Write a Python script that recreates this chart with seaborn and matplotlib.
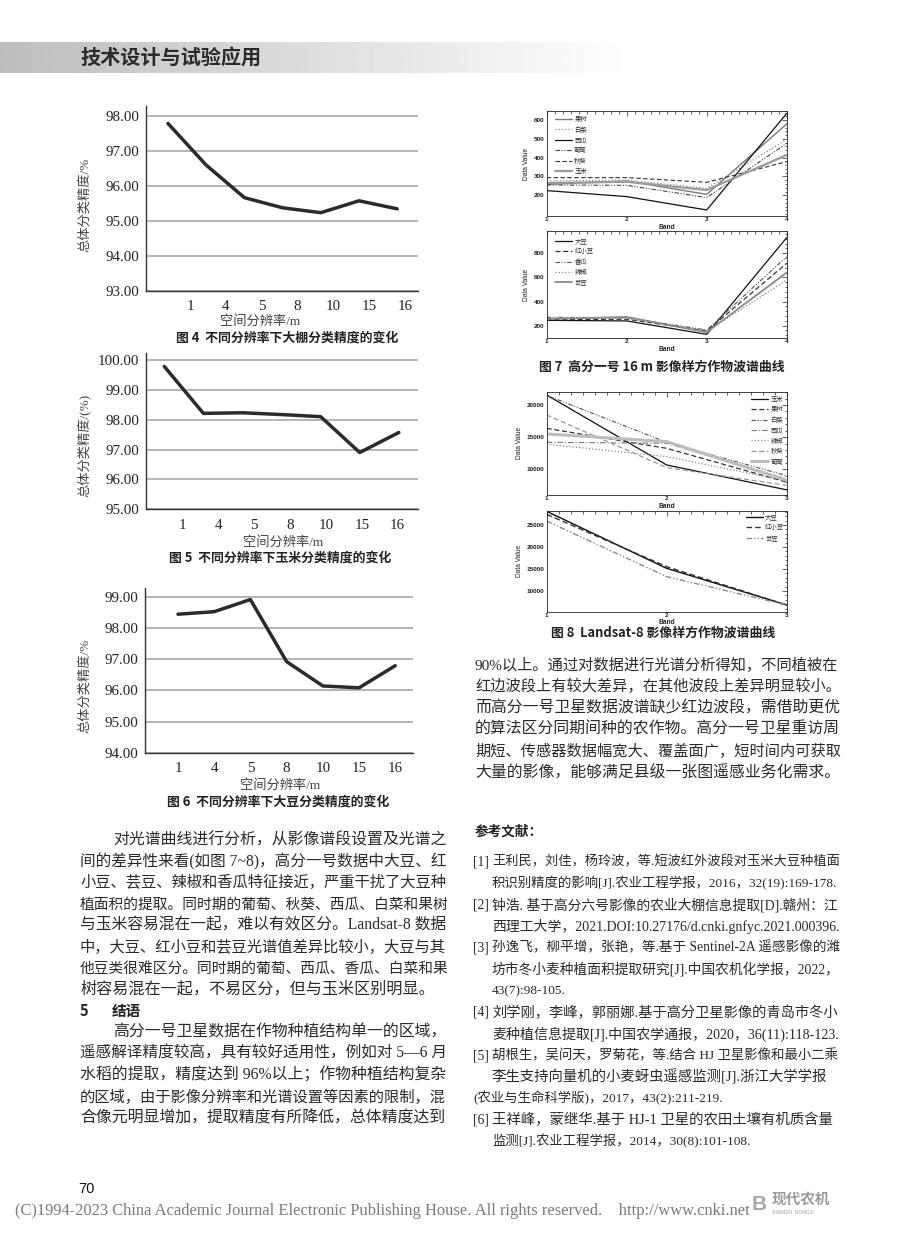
import numpy as np
import pandas as pd
import matplotlib
matplotlib.use("Agg")
import matplotlib.pyplot as plt
import seaborn as sns
from matplotlib.lines import Line2D
from matplotlib.ticker import MultipleLocator

# ---------------- data ----------------
resolution_labels = ["1", "4", "5", "8", "10", "15", "16"]
greenhouse_acc = [97.78, 96.59, 95.66, 95.37, 95.23, 95.57, 95.34]
maize_acc = [99.78, 98.21, 98.23, 98.17, 98.10, 96.90, 97.57]
soybean_acc = [98.44, 98.52, 98.91, 96.92, 96.14, 96.08, 96.79]

gf_bands = [1, 2, 3, 4]
gf_top_crops = ["果树", "白菜", "西瓜", "葡萄", "秋葵", "玉米"]
gf_top_values = {
    "果树": [258, 276, 205, 579],
    "白菜": [276, 281, 237, 497],
    "西瓜": [225, 193, 122, 635],
    "葡萄": [255, 253, 188, 476],
    "秋葵": [294, 294, 269, 379],
    "玉米": [265, 272, 228, 414],
}
gf_bot_crops = ["大豆", "红小豆", "香瓜", "辣椒", "芸豆"]
gf_bot_values = {
    "大豆": [244, 239, 128, 930],
    "红小豆": [250, 253, 156, 717],
    "香瓜": [269, 266, 164, 772],
    "辣椒": [261, 260, 150, 579],
    "芸豆": [255, 272, 145, 640],
}
ls_bands = [1, 2, 3]
ls_top_crops = ["玉米", "果树", "白菜", "西瓜", "辣椒", "秋葵", "葡萄"]
ls_top_values = {
    "玉米": [21550, 10670, 6800],
    "果树": [16370, 13260, 8000],
    "白菜": [21500, 14200, 9000],
    "西瓜": [14200, 14050, 8500],
    "辣椒": [13900, 11970, 8200],
    "秋葵": [18450, 10260, 7500],
    "葡萄": [15500, 14300, 8300],
}
ls_bot_crops = ["大豆", "红小豆", "芸豆"]
ls_bot_values = {
    "大豆": [28100, 15150, 6820],
    "红小豆": [27420, 15530, 6820],
    "芸豆": [25900, 13260, 6820],
}

header_text = "技术设计与试验应用"
# (text, justified?)
left_lines = [
    ("对光谱曲线进行分析，从影像谱段设置及光谱之", True),
    ("间的差异性来看(如图 7~8)，高分一号数据中大豆、红", True),
    ("小豆、芸豆、辣椒和香瓜特征接近，严重干扰了大豆种", True),
    ("植面积的提取。同时期的葡萄、秋葵、西瓜、白菜和果树", True),
    ("与玉米容易混在一起，难以有效区分。Landsat-8 数据", True),
    ("中，大豆、红小豆和芸豆光谱值差异比较小，大豆与其", True),
    ("他豆类很难区分。同时期的葡萄、西瓜、香瓜、白菜和果", True),
    ("树容易混在一起，不易区分，但与玉米区别明显。", False),
]
section_title = ("5", "结语")
left_lines2 = [
    ("高分一号卫星数据在作物种植结构单一的区域，", True),
    ("遥感解译精度较高，具有较好适用性，例如对 5—6 月", True),
    ("水稻的提取，精度达到 96%以上；作物种植结构复杂", True),
    ("的区域，由于影像分辨率和光谱设置等因素的限制，混", True),
    ("合像元明显增加，提取精度有所降低，总体精度达到", True),
]
right_lines = [
    ("90%以上。通过对数据进行光谱分析得知，不同植被在", True),
    ("红边波段上有较大差异，在其他波段上差异明显较小。", True),
    ("而高分一号卫星数据波谱缺少红边波段，需借助更优", True),
    ("的算法区分同期间种的农作物。高分一号卫星重访周", True),
    ("期短、传感器数据幅宽大、覆盖面广，短时间内可获取", True),
    ("大量的影像，能够满足县级一张图遥感业务化需求。", True),
]
ref_title = "参考文献："
# (tag, text, justified?, hanging indent?)
ref_lines = [
    ("[1]", "王利民，刘佳，杨玲波，等.短波红外波段对玉米大豆种植面", True, True),
    ("", "积识别精度的影响[J].农业工程学报，2016，32(19):169-178.", True, True),
    ("[2]", "钟浩. 基于高分六号影像的农业大棚信息提取[D].赣州：江", True, True),
    ("", "西理工大学，2021.DOI:10.27176/d.cnki.gnfyc.2021.000396.", True, True),
    ("[3]", "孙逸飞，柳平增，张艳，等.基于 Sentinel-2A 遥感影像的潍", True, True),
    ("", "坊市冬小麦种植面积提取研究[J].中国农机化学报，2022，", True, True),
    ("", "43(7):98-105.", False, True),
    ("[4]", "刘学刚，李峰，郭丽娜.基于高分卫星影像的青岛市冬小", True, True),
    ("", "麦种植信息提取[J].中国农学通报，2020，36(11):118-123.", True, True),
    ("[5]", "胡根生，吴问天，罗菊花，等.结合 HJ 卫星影像和最小二乘", True, True),
    ("", "李生支持向量机的小麦蚜虫遥感监测[J].浙江大学学报", True, True),
    ("", "(农业与生命科学版)，2017，43(2):211-219.", False, False),
    ("[6]", "王祥峰，蒙继华.基于 HJ-1 卫星的农田土壤有机质含量", True, True),
    ("", "监测[J].农业工程学报，2014，30(8):101-108.", False, True),
]
page_number = "70"
copyright_text = ("(C)1994-2023 China Academic Journal Electronic Publishing House. "
                  "All rights reserved.    http://www.cnki.net")

# ---------------- style ----------------
sns.set_style("white")
MIX = ["Liberation Serif", "Noto Sans CJK SC", "DejaVu Sans"]
SANS = ["Noto Sans CJK SC", "DejaVu Sans"]
SMALL = ["Liberation Sans", "Noto Sans CJK SC", "DejaVu Sans"]
plt.rcParams["font.family"] = MIX
plt.rcParams["axes.unicode_minus"] = False

W, H = 920, 1246
fig = plt.figure(figsize=(W / 100, H / 100), dpi=100)
renderer = fig.canvas.get_renderer()
bg = fig.add_axes([0, 0, 1, 1])
grad = np.clip(np.linspace(0.74, 1.12, 920), 0, 1)[None, :]
bg.imshow(np.repeat(grad, 2, axis=0), extent=(0, W, 73, 42), cmap="gray",
          vmin=0, vmax=1, aspect="auto", interpolation="bilinear", zorder=0)
bg.set_xlim(0, W)
bg.set_ylim(H, 0)
bg.axis("off")

TEXT_C = "#2a2a2a"


def T(x, y, s, size, ha="left", va="center", weight="normal", color=TEXT_C,
      family=MIX, **kw):
    return bg.text(x, y, s, fontsize=size, ha=ha, va=va, fontweight=weight, color=color,
                   family=family, **kw)


def TJ(x, y, s, size, right, justify, lo, hi, **kw):
    """Text line whose size is tuned so the line fills the column (justified look)."""
    t = T(x, y, s, size, **kw)
    if justify:
        w = t.get_window_extent(renderer).width
        t.set_fontsize(float(np.clip(size * (right - x) / w, lo, hi)))
    return t


def add_ax(l, t, r, b):
    return fig.add_axes([l / W, 1 - b / H, (r - l) / W, (b - t) / H])


# header
T(80, 57, header_text, 14.5, weight="bold", color="#2a2a2a", family=SANS)


# ---------------- accuracy charts ----------------
def acc_chart(box, values, ylo, ytop, xlim, tick_pos, ylabel, ylab_y, xlab_x, xlab_y,
              cap, cap_x, cap_y):
    ax = add_ax(*box)
    x = np.arange(len(values))
    sns.lineplot(x=x, y=values, ax=ax, color="#2b2b2b", lw=2.5, legend=False)
    ax.set_ylim(ylo, ytop)
    ax.set_xlim(*xlim)
    yt = np.arange(ylo, np.floor(ytop) + 0.01, 1.0)
    ax.set_yticks(yt)
    ax.set_yticklabels([f"{v:.2f}" for v in yt], fontsize=10.8, color="#222222")
    ax.set_xticks(tick_pos)
    ax.set_xticklabels(resolution_labels, fontsize=10.8, color="#222222")
    ax.yaxis.grid(True, color="#a0a0a0", lw=1.1)
    ax.xaxis.grid(False)
    ax.set_axisbelow(True)
    for s in ["top", "right"]:
        ax.spines[s].set_visible(False)
    for s in ["left", "bottom"]:
        ax.spines[s].set_color("#333333")
        ax.spines[s].set_linewidth(1.0)
    ax.tick_params(axis="y", length=0, pad=5)
    ax.tick_params(axis="x", length=3, direction="out", color="#333333", pad=4)
    ax.set_xlabel("")
    ax.set_ylabel("")
    T(85, ylab_y, ylabel, 9.5, ha="center", rotation=90, color="#444444")
    T(xlab_x, xlab_y, "空间分辨率/m", 9.5, ha="center", color="#444444")
    T(cap_x, cap_y, cap, 9.3, ha="center", weight="bold", family=SANS, color="#222222")


acc_chart((146, 106, 418, 290.7), greenhouse_acc, 93, 98.28, (-0.576, 6.545),
          [0.576 + 0.937 * i for i in range(7)], "总体分类精度/%", 205, 260, 321,
          "图 4  不同分辨率下大棚分类精度的变化", 287, 338)
acc_chart((146, 352.7, 418, 509.3), maize_acc, 95, 100.24, (-0.468, 6.49),
          [0.46 + 0.918 * i for i in range(7)], "总体分类精度/(%)", 445, 283, 542,
          "图 5  不同分辨率下玉米分类精度的变化", 280, 558)
acc_chart((145, 588, 413, 752.7), soybean_acc, 94, 99.28, (-0.91, 6.49),
          list(range(7)), "总体分类精度/%", 686, 280, 785,
          "图 6  不同分辨率下大豆分类精度的变化", 278, 802)


# ---------------- spectral charts ----------------
DASH = {"solid": "", "dot": (1, 1.6), "dash": (4, 2.2), "dashdotdot": (4, 1.5, 1, 1.5, 1, 1.5),
        "dashdot": (5, 1.8, 1, 1.8)}


def spectral(box, bands, crops, values, styles, ylim, yticks, yminor, legend_loc,
             legend_anchor):
    ax = add_ax(*box)
    rows = []
    for c in crops:
        for b, v in zip(bands, values[c]):
            rows.append({"Band": b, "Value": v, "crop": c})
    df = pd.DataFrame(rows)
    pal = {c: styles[c][0] for c in crops}
    dashes = {c: DASH[styles[c][1]] for c in crops}
    sizes = {c: styles[c][2] for c in crops}
    sns.lineplot(data=df, x="Band", y="Value", hue="crop", style="crop", size="crop",
                 hue_order=crops, style_order=crops, size_order=crops,
                 palette=pal, dashes=dashes, sizes=sizes, errorbar=None,
                 legend=False, ax=ax)
    ax.set_xlim(bands[0], bands[-1])
    ax.set_ylim(*ylim)
    ax.set_xticks(bands)
    ax.set_yticks(yticks)
    ax.xaxis.set_minor_locator(MultipleLocator(0.1))
    ax.yaxis.set_minor_locator(MultipleLocator(yminor))
    ax.tick_params(which="both", direction="in", top=True, right=True, width=0.5,
                   color="#222222")
    ax.tick_params(which="major", length=3.5)
    ax.tick_params(axis="x", which="major", pad=0.8)
    ax.tick_params(axis="y", which="major", pad=1.5)
    ax.tick_params(which="minor", length=1.8)
    for lab in ax.get_xticklabels() + ax.get_yticklabels():
        lab.set_fontsize(4.6)
        lab.set_fontweight("bold")
        lab.set_family(SMALL)
        lab.set_color("#222222")
    for s in ax.spines.values():
        s.set_linewidth(0.6)
        s.set_color("#222222")
    ax.grid(False)
    handles = []
    for c in crops:
        h = Line2D([0], [0], color=styles[c][0], lw=styles[c][2])
        if styles[c][1] != "solid":
            h.set_dashes(DASH[styles[c][1]])
        handles.append(h)
    leg = ax.legend(handles, crops, loc=legend_loc, bbox_to_anchor=legend_anchor,
                    frameon=False, prop={"family": SANS, "size": 4.6},
                    handlelength=2.6, handletextpad=0.4, labelspacing=0.38,
                    borderaxespad=0, borderpad=0)
    for t in leg.get_texts():
        t.set_color("#333333")
    ax.set_ylabel("Data Value", fontsize=4.8, family=SMALL, color="#222222", labelpad=3)
    ax.set_xlabel("Band", fontsize=4.8, family=SMALL, fontweight="bold", color="#222222",
                  labelpad=1.2)
    return ax


gf_top_styles = {
    "果树": ("#7a7a7a", "solid", 1.0),
    "白菜": ("#8a8a8a", "dot", 0.9),
    "西瓜": ("#111111", "solid", 0.9),
    "葡萄": ("#444444", "dashdotdot", 0.8),
    "秋葵": ("#333333", "dash", 0.8),
    "玉米": ("#9a9a9a", "solid", 1.6),
}
gf_bot_styles = {
    "大豆": ("#111111", "solid", 0.9),
    "红小豆": ("#333333", "dash", 0.9),
    "香瓜": ("#555555", "dashdotdot", 0.8),
    "辣椒": ("#888888", "dot", 0.9),
    "芸豆": ("#8a8a8a", "solid", 1.3),
}
ls_top_styles = {
    "玉米": ("#111111", "solid", 0.9),
    "果树": ("#333333", "dash", 0.9),
    "白菜": ("#555555", "dashdotdot", 0.8),
    "西瓜": ("#777777", "dashdot", 0.8),
    "辣椒": ("#888888", "dot", 0.9),
    "秋葵": ("#999999", "dash", 0.9),
    "葡萄": ("#bdbdbd", "solid", 2.2),
}
ls_bot_styles = {
    "大豆": ("#111111", "solid", 1.0),
    "红小豆": ("#333333", "dash", 1.0),
    "芸豆": ("#8a8a8a", "dashdotdot", 1.0),
}

spectral((546.7, 111, 786.7, 216), gf_bands, gf_top_crops, gf_top_values, gf_top_styles,
         (90, 648), [200, 300, 400, 500, 600], 20, "upper left", (0.035, 0.96))
spectral((546.7, 231, 786.7, 338.3), gf_bands, gf_bot_crops, gf_bot_values, gf_bot_styles,
         (95, 985), [200, 400, 600, 800], 40, "upper left", (0.035, 0.944))
T(662, 367, "图 7  高分一号 16 m 影像样方作物波谱曲线", 9.3, ha="center", weight="bold",
  family=SANS, color="#222222")
spectral((546.7, 391.7, 786.7, 495), ls_bands, ls_top_crops, ls_top_values, ls_top_styles,
         (6000, 22070), [10000, 15000, 20000], 1000, "upper right", (0.985, 0.968))
spectral((546.7, 511, 786.7, 611.7), ls_bands, ls_bot_crops, ls_bot_values, ls_bot_styles,
         (5300, 28180), [10000, 15000, 20000, 25000], 1000, "upper right", (0.99, 0.98))
T(663, 633, "图 8  Landsat-8 影像样方作物波谱曲线", 9.3, ha="center", weight="bold",
  family=SANS, color="#222222")

# ---------------- body text ----------------
BODY = 11.6
LS = 21.4
y = 840
for i, (line, just) in enumerate(left_lines):
    TJ(113 if i == 0 else 80, y, line, BODY, 447, just, 10.6, 12.2)
    y += LS
T(80, y, section_title[0], 10.5, weight="bold", family=SANS, color="#222222")
T(112, y, section_title[1], 10.5, weight="bold", family=SANS, color="#222222")
y += LS
for i, (line, just) in enumerate(left_lines2):
    TJ(113 if i == 0 else 80, y, line, BODY, 447, just, 10.6, 12.2)
    y += LS

y = 665
for line, just in right_lines:
    TJ(475, y, line, BODY, 840, just, 10.6, 12.2)
    y += 21.6

T(475, 832, ref_title, 9.8, weight="bold", family=SANS, color="#222222")
y = 862
for tag, line, just, hang in ref_lines:
    if tag:
        T(473, y, tag, 9.8)
    TJ(492 if hang else 473, y, line, 9.6, 840, just, 8.8, 10.4)
    y += 21.5

# ---------------- footer ----------------
T(78, 1189, page_number, 10.5, family=["Liberation Sans", "DejaVu Sans"], color="#111111")
TJ(15, 1211, copyright_text, 11.6, 748, True, 11, 12.5, color="#7a7a7a",
   family=["Liberation Serif"])
T(772, 1199, "现代农机", 10.5, weight="bold", family=SANS, color="#9a9a9a")
T(772, 1212, "XIANDAI  NONGJI", 3.6, family=["Liberation Sans"], color="#9a9a9a")
T(752, 1204, "B", 15, weight="bold", family=["Liberation Sans"], color="#a8a8a8")

fig.savefig("out.png", dpi=100)
